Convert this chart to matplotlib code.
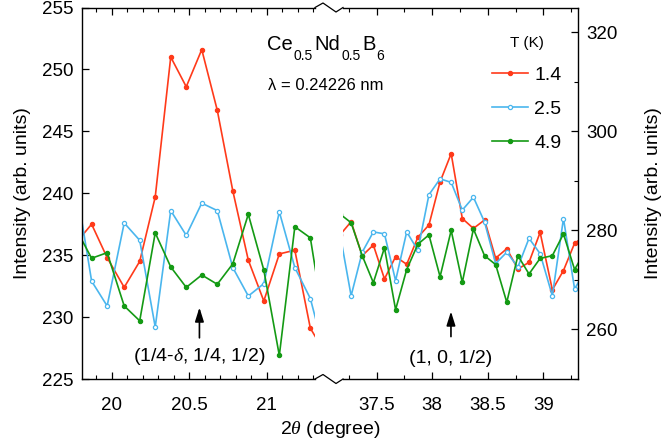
import numpy as np
import matplotlib
matplotlib.use('Agg')
import matplotlib.pyplot as plt
from matplotlib.lines import Line2D
from matplotlib.ticker import MultipleLocator

plt.rcParams['font.family'] = ['Liberation Sans', 'DejaVu Sans']
plt.rcParams['mathtext.fontset'] = 'custom'
plt.rcParams['mathtext.rm'] = 'Liberation Sans'
plt.rcParams['mathtext.it'] = 'Liberation Serif:italic'

# data, left part (1/4-d, 1/4, 1/2) -- left axis
x_left = [19.77, 19.87, 19.97, 20.08, 20.18, 20.28, 20.38, 20.48, 20.58,
          20.68, 20.78, 20.88, 20.98, 21.08, 21.18, 21.28, 21.38]
red_left = [236.0, 237.5, 234.8, 232.4, 234.5, 239.7, 251.0, 248.6, 251.6,
            246.7, 240.2, 234.6, 231.3, 235.1, 235.4, 229.1, 227.0]
blue_left = [240.6, 232.9, 230.9, 237.6, 236.2, 229.2, 238.6, 236.6, 239.2,
             238.6, 234.0, 231.7, 232.7, 238.5, 234.0, 231.5, 226.7]
green_left = [237.1, 234.75, 235.2, 230.9, 229.7, 236.8, 234.05, 232.4, 233.4,
              232.65, 234.3, 238.3, 233.8, 226.9, 237.3, 236.4, 228.6]

# data, right part (1, 0, 1/2) -- right axis
x_right = [37.17, 37.27, 37.37, 37.47, 37.57, 37.67, 37.77, 37.87, 37.97,
           38.07, 38.17, 38.27, 38.37, 38.47, 38.57, 38.67, 38.77, 38.87,
           38.97, 39.08, 39.18, 39.28, 39.38]
red_right = [279.1, 281.75, 274.9, 277.05, 270.2, 274.7, 273.15, 278.6, 281.1,
             289.8, 295.5, 282.4, 280.4, 282.1, 274.4, 276.3, 272.2, 273.55,
             279.6, 268.0, 271.9, 277.4, 279.0]
blue_right = [279.3, 266.8, 275.6, 279.7, 279.3, 269.85, 279.7, 276.0, 287.2,
              290.4, 289.7, 284.1, 286.7, 281.7, 273.3, 275.6, 272.6, 278.4,
              275.3, 266.8, 282.4, 268.2, 272.0]
green_right = [283.3, 281.55, 274.9, 269.45, 276.5, 264.0, 272.1, 277.2, 279.1,
               270.65, 280.0, 269.5, 280.3, 274.9, 273.1, 265.5, 274.9, 271.2,
               274.35, 274.9, 279.3, 272.1, 276.0]

temps = ['1.4', '2.5', '4.9']
colors = ['#ff3a1a', '#4ab6ee', '#149a14']
fills = ['#ff3a1a', 'white', '#149a14']

W, H = 667, 446
fig = plt.figure(figsize=(6.67, 4.46), dpi=100)
ytop, ybot = 7.5, 379
ax1 = fig.add_axes([81.7 / W, 1 - ybot / H, (315 - 81.7) / W, (ybot - ytop) / H])
ax2 = fig.add_axes([343 / W, 1 - ybot / H, (577.7 - 343) / W, (ybot - ytop) / H])

for ys, c, f in zip([red_left, blue_left, green_left], colors, fills):
    ax1.plot(x_left, ys, '-o', color=c, mfc=f, mec=c, ms=3, lw=1.2, mew=0.9)
handles = []
for ys, c, f, t in zip([red_right, blue_right, green_right], colors, fills, temps):
    h, = ax2.plot(x_right, ys, '-o', color=c, mfc=f, mec=c, ms=3, lw=1.2, mew=0.9, label=t)
    handles.append(h)

ax1.set_xlim(19.806, 21.31)
ax1.set_ylim(225, 255)
ax2.set_xlim(37.197, 39.308)
ax2.set_ylim(250, 325)

ax1.spines['right'].set_visible(False)
ax2.spines['left'].set_visible(False)
ax2.yaxis.tick_right()
ax2.yaxis.set_label_position('right')

ax1.xaxis.set_minor_locator(MultipleLocator(0.1))
ax1.yaxis.set_major_locator(MultipleLocator(5))
ax2.xaxis.set_minor_locator(MultipleLocator(0.25))
ax2.yaxis.set_major_locator(MultipleLocator(20))
ax2.yaxis.set_minor_locator(MultipleLocator(10))
ax1.set_xticks([20, 20.5, 21])
ax1.set_xticklabels(['20', '20.5', '21'])
ax2.set_xticks([37.5, 38, 38.5, 39])
ax2.set_xticklabels(['37.5', '38', '38.5', '39'])

for ax, side in ((ax1, 'left'), (ax2, 'right')):
    ax.tick_params(axis='both', which='both', direction='in', top=True,
                   left=(side == 'left'), right=(side == 'right'), labelsize=13.5)
    ax.tick_params(which='major', length=5, width=0.9)
    ax.tick_params(which='minor', length=3, width=0.8)
    ax.tick_params(axis='x', pad=13)
    ax.tick_params(axis='y', pad=6)
    for s in ax.spines.values():
        s.set_linewidth(1.0)

ax1.set_ylabel('Intensity (arb. units)', fontsize=14, labelpad=8)
ax2.set_ylabel('Intensity (arb. units)', fontsize=14, labelpad=20)
fig.text(330 / W, 1 - 430 / H, r'2$\theta$ (degree)', ha='center', va='center', fontsize=14)

# broken axis zigzags
for yb in (ytop, ybot):
    px = [315, 323, 336, 343]
    py = [yb, yb - 4.5, yb + 4.5, yb]
    fig.add_artist(Line2D([p / W for p in px], [1 - p / H for p in py],
                          color='black', lw=0.9))

# compound formula with low-set subscripts, pieces chained left to right
renderer = fig.canvas.get_renderer()
pieces = [('Ce', False), ('0.5', True), ('Nd', False), ('0.5', True),
          ('B', False), ('6', True)]
cx = 267.0
for s, sub in pieces:
    py = 60 if sub else 50
    t = fig.text(cx / W, 1 - py / H, s, ha='left', va='baseline',
                 fontsize=10 if sub else 14.5)
    bb = t.get_window_extent(renderer)
    cx += bb.width + (1.5 if sub else 1.0)
fig.text(326 / W, 1 - 85 / H, '\u03bb = 0.24226 nm', ha='center', va='center',
         fontsize=12)

ax1.annotate('', xy=(20.565, 231.0), xytext=(20.565, 228.1),
             arrowprops=dict(arrowstyle='-|>,head_length=0.7,head_width=0.22',
                             color='black', lw=1.2, mutation_scale=12))
ax1.text(20.565, 226.8, r'(1/4-$\delta$, 1/4, 1/2)', ha='center', va='center', fontsize=14)
ax2.annotate('', xy=(38.168, 264.2), xytext=(38.168, 258.0),
             arrowprops=dict(arrowstyle='-|>,head_length=0.7,head_width=0.22',
                             color='black', lw=1.2, mutation_scale=12))
ax2.text(38.168, 254.1, '(1, 0, 1/2)', ha='center', va='center', fontsize=14)

fig.legend(handles=handles, labels=temps, title='T (K)', loc='upper left',
           bbox_to_anchor=(474 / W, 1 - 18 / H), frameon=False, fontsize=14,
           title_fontsize=11, handlelength=1.9, handletextpad=0.3, labelspacing=0.85)

fig.savefig('out.png', dpi=100)
